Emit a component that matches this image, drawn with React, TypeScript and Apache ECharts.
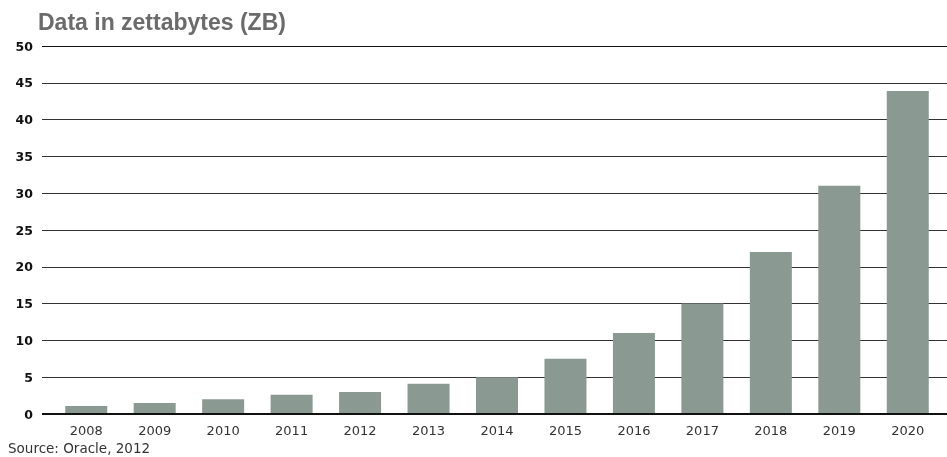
import React, { useEffect, useRef } from "react";
import * as echarts from "echarts";

const years = ["2008", "2009", "2010", "2011", "2012", "2013", "2014", "2015", "2016", "2017", "2018", "2019", "2020"];
const zettabytes = [1.1, 1.5, 2.0, 2.6, 3.0, 4.1, 5.0, 7.5, 11.0, 15.0, 22.0, 31.0, 43.9];
const yTicks = [0, 5, 10, 15, 20, 25, 30, 35, 40, 45, 50];

export default function App() {
  const ref = useRef<HTMLDivElement>(null);
  useEffect(() => {
    if (!ref.current) return;
    const chart = echarts.init(ref.current, undefined, { renderer: "svg" });
    const yMax = yTicks[yTicks.length - 1];
    chart.setOption({
      animation: false,
      title: {
        text: "Data in zettabytes (ZB)",
        left: 33,
        top: 5,
        textStyle: { fontFamily: "Liberation Sans, Arial", fontWeight: "bold", fontSize: 23, color: "#6b6b6b" },
      },
      graphic: [
        {
          type: "text",
          left: 8,
          top: 441,
          style: { text: "Source: Oracle, 2012", fontFamily: "DejaVu Sans", fontSize: 13.5, fill: "#333" },
        },
      ],
      grid: [
        { left: 42, right: 0, top: 46, bottom: 43, containLabel: false },
        { left: 52, right: 5, top: 46, bottom: 43, containLabel: false },
      ],
      xAxis: [
        { type: "value", gridIndex: 0, show: false, min: 0, max: 1 },
        {
          type: "category",
          gridIndex: 1,
          data: years,
          axisLine: { show: false },
          axisTick: { show: false },
          axisLabel: { color: "#333", fontSize: 13, fontFamily: "DejaVu Sans", margin: 10 },
        },
      ],
      yAxis: [
        {
          type: "value",
          gridIndex: 0,
          min: 0,
          max: yMax,
          interval: 5,
          axisLine: { show: false },
          axisTick: { show: false },
          axisLabel: { color: "#111", fontWeight: "bold", fontSize: 12.5, fontFamily: "DejaVu Sans", margin: 9 },
          splitLine: {
            lineStyle: { color: ["#111", "#333", "#333", "#333", "#333", "#333", "#333", "#333", "#333", "#333", "#111"], width: 1 },
          },
        },
        { type: "value", gridIndex: 1, min: 0, max: yMax, show: false },
      ],
      series: [
        {
          type: "bar",
          xAxisIndex: 1,
          yAxisIndex: 1,
          data: zettabytes,
          barWidth: 42,
          itemStyle: { color: "#8a9a92" },
          z: 1,
        },
        {
          type: "line",
          xAxisIndex: 0,
          yAxisIndex: 0,
          data: [[0, 0], [1, 0]],
          symbol: "none",
          lineStyle: { color: "#111", width: 2 },
          z: 5,
        },
      ],
    });
    return () => chart.dispose();
  }, []);
  return <div ref={ref} style={{ position: "fixed", left: 0, top: 0, width: 947, height: 457 }} />;
}
